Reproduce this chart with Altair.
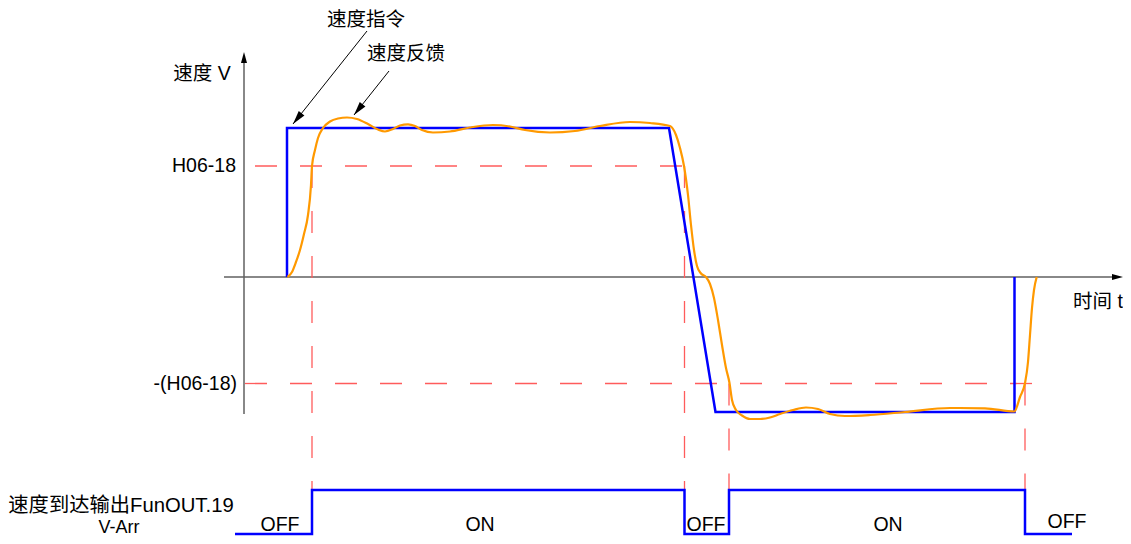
import altair as alt
import pandas as pd
import numpy as np

# ---------------- data (time t, speed V) ----------------
T_DOMAIN = [8, 1123]
V_DOMAIN = [-259, 269]

# speed command (blue)
cmd_t = [287, 287, 669, 715.5, 1014.5, 1014.5]
cmd_v = [0, 149, 149, -135, -135, 0]

# speed feedback (orange)
fb_t = [287.5, 292, 296, 300, 304, 308, 311, 312, 315, 318, 323, 330, 338, 347, 357,
        368, 378, 385, 393, 400, 408, 415, 422, 433, 450, 470, 493, 510, 525, 550,
        575, 600, 630, 650, 670, 676, 680, 684, 688, 691, 694, 697, 701, 706, 710,
        714, 718, 722, 726, 729.5, 732, 736, 742, 750, 760, 770, 780, 793, 806, 818,
        830, 845, 870, 905, 950, 985, 1014.3, 1020, 1025, 1028, 1030, 1032, 1034, 1036.7]
fb_v = [0, 5, 15, 27, 43, 62, 92, 111, 127, 139, 149, 155.5, 158.5, 159.5, 158,
        153, 147.5, 145.5, 148, 151.5, 152.7, 151, 147, 144.5, 145.5, 149.5, 152, 150.5, 147, 144.5,
        146, 151, 155, 154, 151, 142, 129, 111, 82, 52, 27, 11, 3.5, 0, -7,
        -21, -43, -68, -91, -106, -123, -133, -138.5, -142, -142, -140.5, -137, -133, -130.5, -132,
        -137, -139, -138, -135, -131, -131.3, -134.5, -120, -106, -85, -58, -31, -13, 0]

# speed-reached output signal (V-Arr)
sig_t = [235, 312, 312, 684.5, 684.5, 729, 729, 1025, 1025, 1072]
sig_v = [-257, -257, -213, -213, -257, -257, -213, -213, -257, -257]

# threshold lines
h_level = 111        # H06-18
nh_level = -106.5    # -(H06-18)
hdash_t1 = [255, 245]
hdash_t2 = [684, 1046]
hdash_v = [h_level, nh_level]
vdash_t = [312, 684.5, 729, 1025]
vdash_v1 = [h_level, h_level, nh_level, nh_level]
vdash_v2 = [-213, -213, -213, -213]

# axes
axis_x1 = [244, 224]
axis_x2 = [244, 1113]
axis_y1 = [-137, 0]
axis_y2 = [214, 0]
axis_head_t = [244, 1123]
axis_head_v = [225, 0]

# annotation arrows
ann_t0 = [367, 389]
ann_v0 = [246, 206]
ann_t1 = [293, 354]
ann_v1 = [153, 162]

# texts
ctext = ["速度指令", "速度反馈", "速度 V", "时间 t", "速度到达输出FunOUT.19", "V-Arr",
         "OFF", "ON", "OFF", "ON", "OFF"]
ctext_t = [366, 406, 202, 1098, 121, 119, 280, 480, 706, 888, 1067]
ctext_v = [257, 223, 203, -25, -228.5, -250.5, -248, -248, -248, -248, -245]
ctext_fs = [19.5, 19.5, 19.5, 19.5, 20.3, 18, 19.5, 19.5, 19.5, 19.5, 19.5]
rtext = ["H06-18", "-(H06-18)"]
rtext_t = [236, 237]
rtext_v = [h_level, nh_level]

FONT = "Liberation Sans, Arial, Noto Sans CJK SC, sans-serif"
BLUE = "#0000FF"
ORANGE = "#FF9900"
RED = "#FF5C5C"

X = lambda f: alt.X(f, type="quantitative", scale=alt.Scale(domain=T_DOMAIN, nice=False, zero=False), axis=None)
Y = lambda f: alt.Y(f, type="quantitative", scale=alt.Scale(domain=V_DOMAIN, nice=False, zero=False), axis=None)

# ---------------- layers ----------------
axes_df = pd.DataFrame({"t": axis_x1, "t2": axis_x2, "v": axis_y1, "v2": axis_y2})
axes = alt.Chart(axes_df).mark_rule(color="#606060", strokeWidth=1.5).encode(
    x=X("t"), x2="t2", y=Y("v"), y2="v2")

heads_df = pd.DataFrame({"t": axis_head_t, "v": axis_head_v, "a": [0, 90]})
heads = alt.Chart(heads_df).mark_point(
    shape="M0,0L0.55,2L-0.55,2Z", size=121, filled=True, color="black", opacity=1
).encode(x=X("t"), y=Y("v"), angle=alt.Angle("a:Q", scale=None))

hd_df = pd.DataFrame({"t": hdash_t1, "t2": hdash_t2, "v": hdash_v})
hdash = alt.Chart(hd_df).mark_rule(color=RED, strokeWidth=1.3, strokeDash=[22, 23]).encode(
    x=X("t"), x2="t2", y=Y("v"))

vd_df = pd.DataFrame({"t": vdash_t, "v": vdash_v1, "v2": vdash_v2})
vdash = alt.Chart(vd_df).mark_rule(color=RED, strokeWidth=1.3, strokeDash=[22, 23]).encode(
    x=X("t"), y=Y("v"), y2="v2")

cmd_df = pd.DataFrame({"t": cmd_t, "v": cmd_v, "o": range(len(cmd_t))})
cmd = alt.Chart(cmd_df).mark_line(color=BLUE, strokeWidth=2.5).encode(
    x=X("t"), y=Y("v"), order="o:Q")

fb_df = pd.DataFrame({"t": fb_t, "v": fb_v, "o": range(len(fb_t))})
fb = alt.Chart(fb_df).mark_line(color=ORANGE, strokeWidth=2.2, interpolate="monotone").encode(
    x=X("t"), y=Y("v"), order="o:Q")

sig_df = pd.DataFrame({"t": sig_t, "v": sig_v, "o": range(len(sig_t))})
sig = alt.Chart(sig_df).mark_line(color=BLUE, strokeWidth=2.5).encode(
    x=X("t"), y=Y("v"), order="o:Q")

# annotation arrows
dx = np.array(ann_t1) - np.array(ann_t0)
dy_screen = -(np.array(ann_v1) - np.array(ann_v0))
ang = (np.degrees(np.arctan2(dx, -dy_screen)) + 360) % 360
ann_df = pd.DataFrame({"t": ann_t0, "v": ann_v0, "t2": ann_t1, "v2": ann_v1, "a": ang})
ann_lines = alt.Chart(ann_df).mark_rule(color="black", strokeWidth=1).encode(
    x=X("t"), y=Y("v"), x2="t2", y2="v2")
ann_heads = alt.Chart(ann_df).mark_point(
    shape="M0,0L0.6,2.3L-0.6,2.3Z", size=144, filled=True, color="black", opacity=1
).encode(x=X("t2"), y=Y("v2"), angle=alt.Angle("a:Q", scale=None))

ct_df = pd.DataFrame({"s": ctext, "t": ctext_t, "v": ctext_v, "fs": ctext_fs})
ctexts = alt.Chart(ct_df).mark_text(font=FONT, color="black", align="center",
                                    baseline="middle").encode(
    x=X("t"), y=Y("v"), text="s:N", size=alt.Size("fs:Q", scale=None))

rt_df = pd.DataFrame({"s": rtext, "t": rtext_t, "v": rtext_v})
rtexts = alt.Chart(rt_df).mark_text(font=FONT, fontSize=19.5, color="black", align="right",
                                    baseline="middle").encode(x=X("t"), y=Y("v"), text="s:N")

chart = alt.layer(axes, hdash, vdash, cmd, fb, sig, ann_lines, ann_heads, heads, ctexts, rtexts).properties(
    width=1115, height=528, autosize=alt.AutoSizeParams(type="none"), padding=0,
    background="white"
).configure_view(stroke=None)

chart.save("out.html", embed_options={"renderer": "svg", "actions": False})
